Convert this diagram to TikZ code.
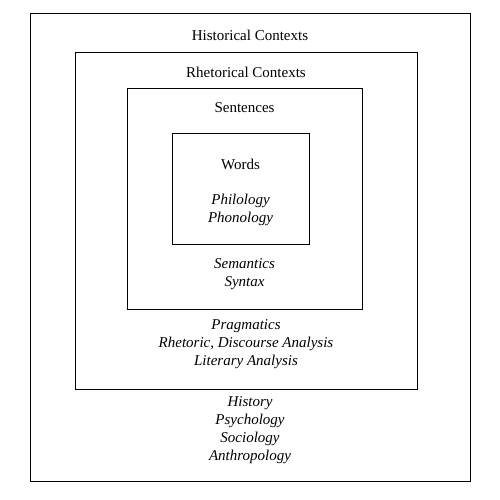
\documentclass[tikz,border=0pt]{standalone}
\usepackage{fontspec}
\setmainfont{Liberation Serif}
\usepackage{tikz}

\begin{document}
\begin{tikzpicture}[x=1pt,y=-1pt,
        box/.style={draw,line width=0.9pt,inner sep=0},
        txt/.style={font=\fontsize{15}{18}\selectfont,align=center,inner sep=0}]
        \useasboundingbox (0,0) rectangle (500,500);

        \node[box,minimum width=440pt,minimum height=468pt] (historical) at (250,247){};
        \node[box,minimum width=342pt,minimum height=337pt] (rhetorical) at (246,220.5){};
        \node[box,minimum width=235pt,minimum height=221pt] (sentences) at (244.5,198.5){};
        \node[box,minimum width=137pt,minimum height=111pt] (words) at (240.5,188.5){};

        \node[txt] (historicalTitle) at (250,35){Historical Contexts};
        \node[txt] (rhetoricalTitle) at (246,72){Rhetorical Contexts};
        \node[txt] (sentencesTitle) at (244.5,108){Sentences};
        \node[txt] (wordsTitle) at (240.5,164){Words};

        \node[txt] (wordsFields) at (240.5,210){\itshape Philology\\\itshape Phonology};
        \node[txt] (sentencesFields) at (244.5,274){\itshape Semantics\\\itshape Syntax};
        \node[txt] (rhetoricalFields) at (246,344){\itshape Pragmatics\\\itshape Rhetoric, Discourse Analysis\\\itshape Literary Analysis};
        \node[txt] (historicalFields) at (250,430){\itshape History\\\itshape Psychology\\\itshape Sociology\\\itshape Anthropology};

    \end{tikzpicture}
\end{document}
